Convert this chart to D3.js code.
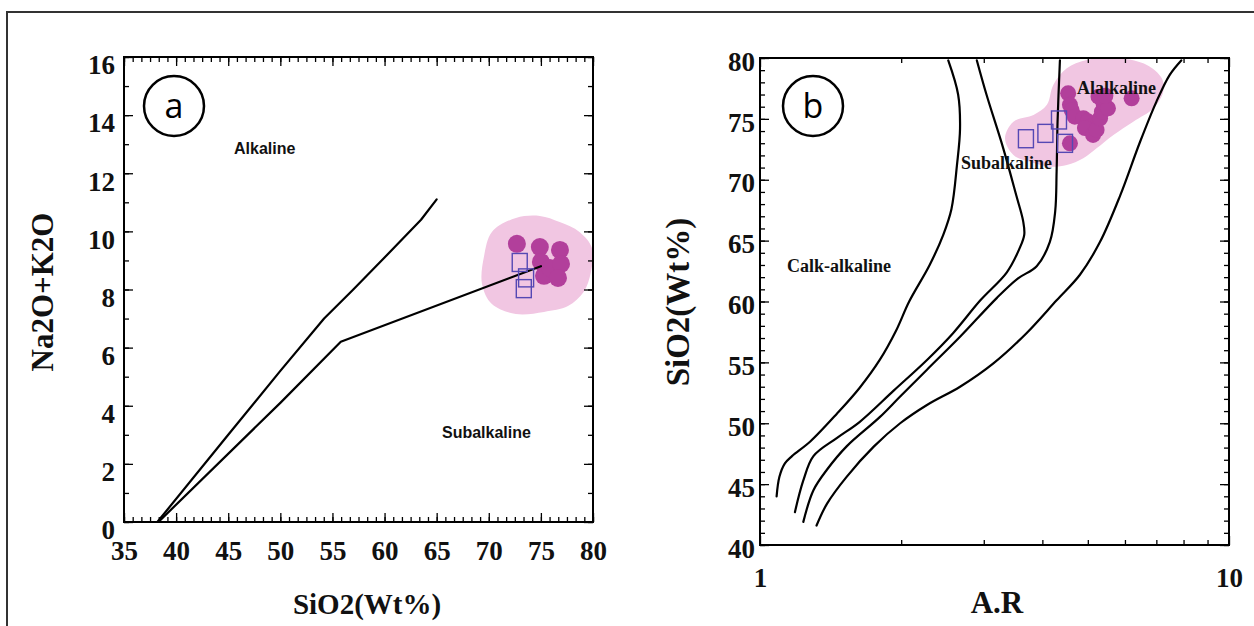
<!DOCTYPE html>
<html lang="en">
<head>
<meta charset="utf-8">
<style>
  body { margin: 0; background: #fff; }
  svg { display: block; }
  .frame { fill: none; stroke: #000; stroke-width: 2px; }
  .curve { fill: none; stroke: #000; stroke-width: 2.2px; stroke-linejoin: round; stroke-linecap: round; }
  .tick line { stroke: #000; stroke-width: 1.3px; }
  .tick text { font-family: "Liberation Serif", "DejaVu Serif", serif; font-weight: bold; fill: #111; }
  .title { font-family: "Liberation Serif", serif; font-weight: bold; fill: #111; }
</style>
</head>
<body>
<svg width="1254" height="626"></svg>
<script src="https://d3js.org/d3.v7.min.js"></script>
<script>
// ---- panel a : TAS (SiO2 vs Na2O+K2O)
var tasXTicks = [35, 40, 45, 50, 55, 60, 65, 70, 75, 80];
var tasYTicks = [0, 2, 4, 6, 8, 10, 12, 14, 16];
var tasUpperLine = [[38.2, 0], [45, 3.0], [50, 5.2], [54.2, 7.0], [57, 8.0], [60, 9.1], [63.5, 10.4], [65, 11.1]];
var tasLowerLine = [[38.3, 0], [50, 4.1], [55.8, 6.2], [75, 8.8]];
var tasField = [[70.3, 9.98], [72.6, 10.46], [74.9, 10.53], [76.8, 10.32], [78.7, 9.98], [79.9, 9.43], [79.8, 8.6],
                [79.1, 7.91], [77.6, 7.43], [75.3, 7.23], [72.6, 7.16], [70.3, 7.5], [69.35, 8.19], [69.55, 9.15]];
var tasDots = [[72.7, 9.57], [74.9, 9.46], [75.0, 8.95], [75.3, 8.47], [75.87, 8.74], [76.83, 9.36], [76.93, 8.88], [76.64, 8.4]];
var tasSquares = [[72.97, 8.93], [73.58, 8.4], [73.36, 8.03]];

// ---- panel b : A.R (log) vs SiO2
var arXTicks = [1, 10];
var arXMinor = [2, 3, 4, 5, 6, 7, 8, 9];
var arYTicks = [40, 45, 50, 55, 60, 65, 70, 75, 80];
var arCurve1 = [[1.085, 44.0], [1.10, 45.6], [1.13, 46.7], [1.17, 47.3], [1.28, 48.5], [1.46, 50.8], [1.63, 52.9], [1.80, 55.2],
                [1.95, 57.6], [2.08, 60.0], [2.30, 63.0], [2.46, 65.5], [2.56, 67.6], [2.63, 71.2], [2.67, 74.2],
                [2.645, 77.0], [2.52, 79.8]];
var arCurve2 = [[1.187, 42.7], [1.237, 45.3], [1.30, 47.3], [1.46, 48.8], [1.63, 50.1], [1.93, 52.7], [2.27, 55.2], [2.58, 57.4],
                [2.95, 60.1], [3.36, 62.4], [3.58, 64.4], [3.66, 65.5], [3.64, 66.6], [3.52, 68.7], [3.30, 72.6], [3.04, 77.0], [2.90, 79.8]];
var arCurve3 = [[1.237, 41.9], [1.30, 44.5], [1.39, 46.2], [1.53, 48.1], [1.80, 50.5], [1.99, 52.2], [2.27, 54.4], [2.67, 57.1],
                [3.2, 60.3], [3.55, 61.9], [3.89, 62.9], [4.15, 64.9], [4.26, 67.4], [4.29, 70.7], [4.31, 74.8], [4.36, 79.8]];
var arCurve4 = [[1.32, 41.6], [1.39, 43.4], [1.53, 45.6], [1.75, 48.1], [1.99, 50.0], [2.27, 51.5], [2.67, 53.0], [3.14, 54.9],
                [3.70, 57.4], [4.29, 60.1], [4.81, 62.2], [5.31, 64.9], [5.86, 68.7], [6.46, 73.1], [7.0, 76.4], [7.47, 78.6], [7.91, 79.8]];
var arField = [[3.33, 73.4], [3.47, 74.77], [3.83, 75.32], [4.09, 76.15], [4.22, 77.78], [4.51, 79.15], [4.97, 79.84], [5.86, 79.98],
               [6.68, 79.43], [7.19, 78.33], [7.24, 77.23], [6.9, 75.87], [6.25, 74.77], [5.67, 73.68], [5.22, 72.58], [4.89, 71.76],
               [4.51, 71.21], [4.15, 71.07], [3.76, 71.48], [3.47, 72.03]];
var arDots = [[4.54, 77.1], [4.58, 76.15], [4.62, 75.7], [4.69, 75.18], [4.89, 75.05], [5.0, 74.8], [5.05, 74.36], [4.93, 74.25],
              [5.13, 73.68], [5.22, 74.09], [5.31, 75.05], [5.36, 75.6], [5.40, 76.28], [5.27, 76.82], [5.52, 75.87], [5.45, 76.9],
              [6.20, 76.69], [4.58, 72.99]];
var arSquares = [[3.69, 73.37], [4.06, 73.81], [4.34, 74.91], [4.47, 72.99]];

var fieldColor = "#f1c6e2", dotColor = "#b23f9b", squareColor = "#5548b4";

var svg = d3.select("svg");

// outer frame (only left and top edges are inside the picture)
svg.append("rect").attr("x", 7).attr("y", 12).attr("width", 1270).attr("height", 640)
    .attr("fill", "none").attr("stroke", "#333").attr("stroke-width", 2);

function drawPanel(o) {
    var g = svg.append("g");
    var x = o.x, y = o.y;
    var x0 = x.range()[0], x1 = x.range()[1], y0 = y.range()[0], y1 = y.range()[1];
    var clipId = "clip" + o.name;
    svg.append("clipPath").attr("id", clipId).append("rect")
        .attr("x", x0).attr("y", y1).attr("width", x1 - x0).attr("height", y0 - y1);

    var plot = g.append("g").attr("clip-path", "url(#" + clipId + ")");
    var line = d3.line().x(function (d) { return x(d[0]); }).y(function (d) { return y(d[1]); });

    plot.append("path").datum(o.field)
        .attr("d", line.curve(d3.curveCatmullRomClosed.alpha(0.5)))
        .attr("fill", fieldColor);

    plot.selectAll(".dot").data(o.dots).enter().append("circle")
        .attr("cx", function (d) { return x(d[0]); })
        .attr("cy", function (d) { return y(d[1]); })
        .attr("r", o.dotR).attr("fill", dotColor);

    o.lines.forEach(function (l) {
        plot.append("path").datum(l).attr("class", "curve")
            .attr("d", line.curve(o.smooth ? d3.curveCatmullRom.alpha(0.5) : d3.curveLinear));
    });

    plot.selectAll(".sq").data(o.squares).enter().append("rect")
        .attr("x", function (d) { return x(d[0]) - 7.5; })
        .attr("y", function (d) { return y(d[1]) - 9; })
        .attr("width", 15).attr("height", 18)
        .attr("fill", "none").attr("stroke", squareColor).attr("stroke-width", 1.4);

    // ticks
    function ax(axis, tr) { return g.append("g").attr("transform", tr).call(axis).call(function (s) { s.select(".domain").remove(); }); }
    ax(d3.axisBottom(x).tickValues(o.xMinor).tickSize(-5).tickFormat(""), "translate(0," + y0 + ")");
    ax(d3.axisTop(x).tickValues(o.xMinor).tickSize(-5).tickFormat(""), "translate(0," + y1 + ")");
    ax(d3.axisTop(x).tickValues(o.xMajorTicks).tickSize(-9).tickFormat(""), "translate(0," + y1 + ")");
    var bx = ax(d3.axisBottom(x).tickValues(o.xMajorTicks).tickSize(-9).tickFormat(o.xFmt), "translate(0," + y0 + ")");
    bx.selectAll("text").attr("y", o.xLabelDy).attr("dy", 0).style("font-size", o.tickFont + "px");
    ax(d3.axisLeft(y).tickValues(o.yMinor).tickSize(-5).tickFormat(""), "translate(" + x0 + ",0)");
    ax(d3.axisRight(y).tickValues(o.yMinor).tickSize(-5).tickFormat(""), "translate(" + x1 + ",0)");
    ax(d3.axisRight(y).tickValues(o.yTicks).tickSize(-9).tickFormat(""), "translate(" + x1 + ",0)");
    var ly = ax(d3.axisLeft(y).tickValues(o.yTicks).tickSize(-9).tickFormat(d3.format("d")), "translate(" + x0 + ",0)");
    ly.selectAll("text").attr("x", -o.yLabelGap).attr("dy", o.yLabelDy).style("font-size", o.tickFont + "px");

    g.append("rect").attr("class", "frame")
        .attr("x", x0).attr("y", y1).attr("width", x1 - x0).attr("height", y0 - y1);

    // region labels
    o.labels.forEach(function (t) {
        g.append("text").attr("x", t.x).attr("y", t.y).text(t.text)
            .attr("font-family", o.labelFont).attr("font-weight", "bold")
            .attr("font-size", o.labelSize).attr("fill", "#111");
    });

    // panel letter
    g.append("circle").attr("cx", o.letterAt[0]).attr("cy", o.letterAt[1]).attr("r", 30)
        .attr("fill", "none").attr("stroke", "#000").attr("stroke-width", 2.5);
    g.append("text").attr("x", o.letterAt[0]).attr("y", o.letterAt[1]).attr("dy", "0.36em")
        .attr("text-anchor", "middle").attr("font-family", "Open Sans, sans-serif")
        .attr("font-size", 34).text(o.name);

    // axis titles
    g.append("text").attr("class", "title").attr("x", o.xTitleAt[0]).attr("y", o.xTitleAt[1])
        .attr("text-anchor", "middle").attr("font-size", o.titleSize).text(o.xTitle);
    g.append("text").attr("class", "title")
        .attr("transform", "translate(" + o.yTitleAt[0] + "," + o.yTitleAt[1] + ") rotate(-90)")
        .attr("text-anchor", "middle").attr("dy", "0.35em").attr("font-size", o.yTitleSize).text(o.yTitle);
}

var xa = d3.scaleLinear().domain([35, 80]).range([124, 593]);
var ya = d3.scaleLinear().domain([0, 16]).range([522, 57]);
drawPanel({
    name: "a", x: xa, y: ya,
    field: tasField, dots: tasDots, squares: tasSquares, lines: [tasUpperLine, tasLowerLine], smooth: false, dotR: 9,
    xMajorTicks: tasXTicks, xMinor: d3.range(35, 80.01, 5 / 6), xFmt: d3.format("d"),
    yTicks: tasYTicks, yMinor: d3.range(0, 16.01, 1),
    tickFont: 27, xLabelDy: 38, yLabelGap: 9, yLabelDy: "0.62em",
    labels: [{ x: 234, y: 154, text: "Alkaline" }, { x: 442, y: 438, text: "Subalkaline" }],
    labelFont: "Liberation Sans, Arial, sans-serif", labelSize: 16,
    letterAt: [174, 106],
    xTitle: "SiO2(Wt%)", xTitleAt: [367, 614], titleSize: 29,
    yTitle: "Na2O+K2O", yTitleAt: [42, 292], yTitleSize: 31
});

var xb = d3.scaleLog().domain([1, 10]).range([760, 1229]);
var yb = d3.scaleLinear().domain([40, 80]).range([545, 58]);
drawPanel({
    name: "b", x: xb, y: yb,
    field: arField, dots: arDots, squares: arSquares, lines: [arCurve1, arCurve2, arCurve3, arCurve4], smooth: true, dotR: 8,
    xMajorTicks: arXTicks, xMinor: arXMinor, xFmt: d3.format("d"),
    yTicks: arYTicks, yMinor: d3.range(40, 80.01, 1),
    tickFont: 27, xLabelDy: 42, yLabelGap: 5, yLabelDy: "0.45em",
    labels: [{ x: 787, y: 272, text: "Calk-alkaline" }, { x: 961, y: 169, text: "Subalkaline" }, { x: 1077, y: 94, text: "Alalkaline" }],
    labelFont: "Liberation Serif, serif", labelSize: 18,
    letterAt: [813, 106],
    xTitle: "A.R", xTitleAt: [997, 613], titleSize: 31,
    yTitle: "SiO2(Wt%)", yTitleAt: [677, 302], yTitleSize: 33
});
</script>
</body>
</html>
